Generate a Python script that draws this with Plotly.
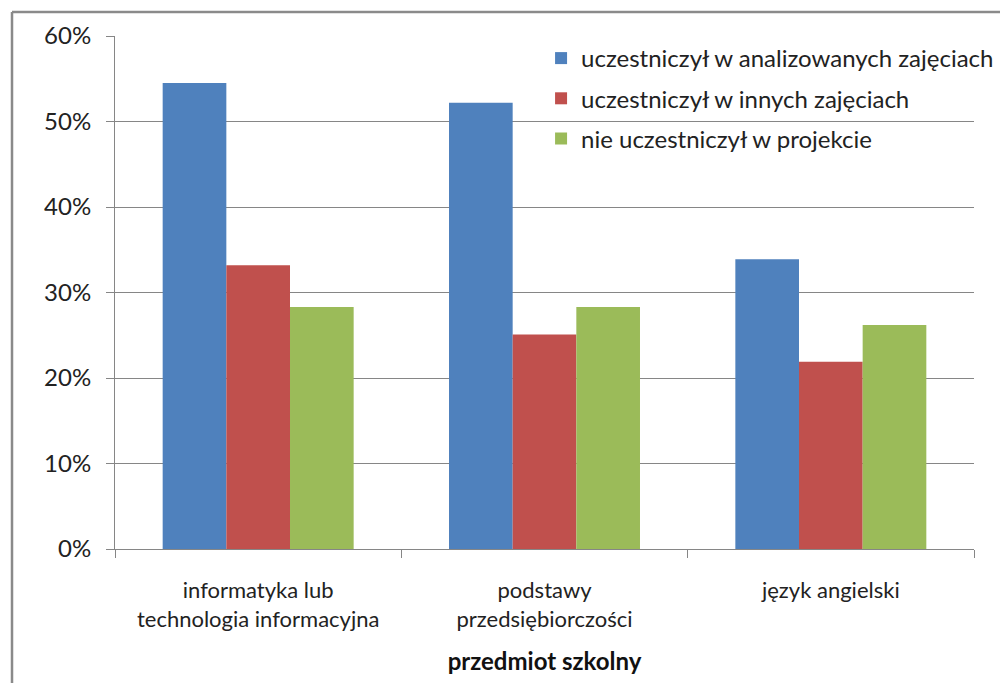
import plotly.graph_objects as go

categories = ["informatyka lub<br>technologia informacyjna", "podstawy<br>przedsiębiorczości", "język angielski"]
series_names = ["uczestniczył w analizowanych zajęciach", "uczestniczył w innych zajęciach", "nie uczestniczył w projekcie"]
analizowane = [0.545, 0.522, 0.339]
inne = [0.332, 0.251, 0.219]
nie = [0.283, 0.283, 0.262]
colors = ["#4F81BD", "#C0504D", "#9BBB59"]
y_ticks = [0, 0.1, 0.2, 0.3, 0.4, 0.5, 0.6]

FONT = "Lato, 'Open Sans', sans-serif"

fig = go.Figure()
for name, vals, col in zip(series_names, [analizowane, inne, nie], colors):
    fig.add_trace(go.Bar(x=categories, y=vals, name=name, legendgroup=name,
                         marker=dict(color=col, line=dict(width=0))))

fig.update_layout(
    width=1008, height=683,
    margin=dict(l=107, r=42, t=28, b=142),
    paper_bgcolor="white", plot_bgcolor="white",
    barmode="group", bargap=0.333, bargroupgap=0,
    font=dict(family=FONT, size=22, color="#222"),
    legend=dict(x=0.496, y=1.0, xanchor="left", yanchor="top",
                font=dict(size=24, color="#222"), bgcolor="rgba(0,0,0,0)",
                tracegroupgap=6),
    xaxis=dict(showgrid=False, showline=True, linecolor="#868686", linewidth=1,
               ticks="outside", tickson="boundaries", ticklen=8, tickcolor="#868686",
               ticklabelstandoff=22,
               tickfont=dict(size=22, color="#222"),
               title=dict(text="<b>przedmiot szkolny</b>", font=dict(size=24, color="#111"), standoff=22)),
    yaxis=dict(range=[0, 0.6], tickvals=y_ticks, tickformat=".0%",
               showgrid=True, gridcolor="#868686", gridwidth=1,
               showline=True, linecolor="#868686", linewidth=1,
               ticks="outside", ticklen=8, tickcolor="#868686",
               ticklabelstandoff=10, tickfont=dict(size=24, color="#222"),
               zeroline=False),
)

# outer chart frame (partially visible)
fig.add_shape(type="line", xref="paper", yref="paper", x0=-0.1199, x1=1.06, y0=1.0468, y1=1.0468,
              line=dict(color="#8a8a8a", width=2.5))
fig.add_shape(type="line", xref="paper", yref="paper", x0=-0.1199, x1=-0.1199, y0=1.0468, y1=-0.30,
              line=dict(color="#8a8a8a", width=2.5))

fig.write_html("out.html")
